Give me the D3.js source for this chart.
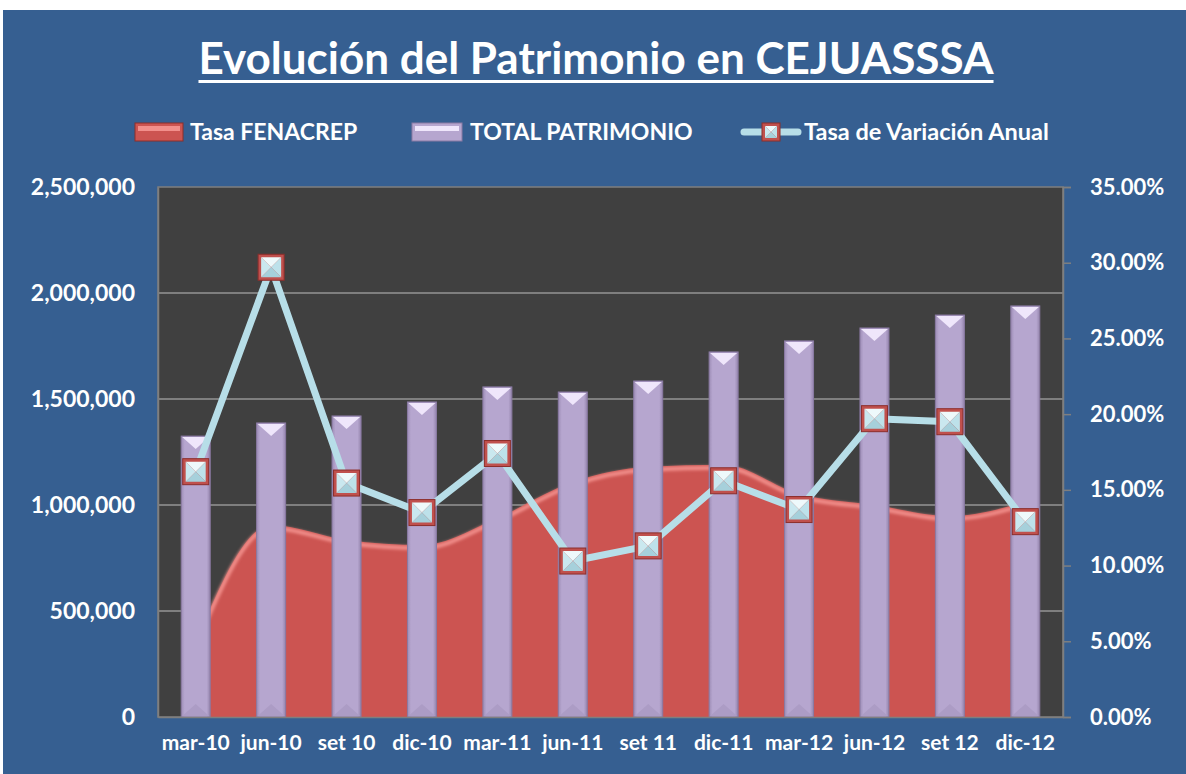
<!DOCTYPE html>
<html>
<head>
<meta charset="utf-8">
<script src="https://cdn.jsdelivr.net/npm/d3@7"></script>
<style>
  body { margin: 0; background: #ffffff; }
  svg text { font-family: "Lato", "Open Sans", sans-serif; font-weight: 700; fill: #ffffff; }
</style>
</head>
<body>
<div id="chart"></div>
<script>
// Data
var periods = ["mar-10", "jun-10", "set 10", "dic-10", "mar-11", "jun-11", "set 11", "dic-11", "mar-12", "jun-12", "set 12", "dic-12"];
var patrimonio = [1325000, 1387000, 1420000, 1486000, 1557000, 1533000, 1585000, 1722000, 1774000, 1835000, 1896000, 1939000];
var fenacrep = [350000, 906000, 835000, 811000, 939000, 1108000, 1180000, 1190000, 1052000, 1000000, 948000, 1015000];
var variacion = [0.162, 0.297, 0.1545, 0.135, 0.174, 0.103, 0.113, 0.156, 0.137, 0.197, 0.195, 0.129];
var leftTicks = [0, 500000, 1000000, 1500000, 2000000, 2500000];
var rightTicks = [0, 0.05, 0.10, 0.15, 0.20, 0.25, 0.30, 0.35];

var width = 1186, height = 774;
var plotLeft = 158, plotRight = 1063, plotTop = 187, plotBottom = 717;
var barWidth = 29;

var svg = d3.select("#chart").append("svg")
  .attr("width", width)
  .attr("height", height);

var defs = svg.append("defs");

// soft glow for the area edge
var blur = defs.append("filter").attr("id", "soft");
blur.append("feGaussianBlur").attr("stdDeviation", 1.6);

// bar body gradient (darker edges)
var barGrad = defs.append("linearGradient").attr("id", "barGrad")
  .attr("x1", 0).attr("x2", 1).attr("y1", 0).attr("y2", 0);
barGrad.append("stop").attr("offset", "0%").attr("stop-color", "#9d8db6");
barGrad.append("stop").attr("offset", "12%").attr("stop-color", "#b6a6cf");
barGrad.append("stop").attr("offset", "88%").attr("stop-color", "#b6a6cf");
barGrad.append("stop").attr("offset", "100%").attr("stop-color", "#9585ad");

// background
svg.append("rect")
  .attr("x", 3).attr("y", 10)
  .attr("width", width - 3).attr("height", height - 10)
  .attr("fill", "#365f91");

// Title
var title = svg.append("text")
  .attr("x", 596)
  .attr("y", 74)
  .attr("text-anchor", "middle")
  .attr("font-size", "44px")
  .text("Evolución del Patrimonio en CEJUASSSA");
var tw = title.node().getComputedTextLength();
svg.append("rect")
  .attr("x", 596 - tw / 2).attr("y", 80)
  .attr("width", tw).attr("height", 3)
  .attr("fill", "#ffffff");

// Scales
var x = d3.scaleBand().domain(periods).range([plotLeft, plotRight]);
var yL = d3.scaleLinear().domain([0, 2500000]).range([plotBottom, plotTop]);
var yR = d3.scaleLinear().domain([0, 0.35]).range([plotBottom, plotTop]);
var cx = function (p) { return x(p) + x.bandwidth() / 2; };

// Plot area
svg.append("rect")
  .attr("x", plotLeft).attr("y", plotTop)
  .attr("width", plotRight - plotLeft).attr("height", plotBottom - plotTop)
  .attr("fill", "#404040")
  .attr("stroke", "#7f7f7f")
  .attr("stroke-width", 1.5);

// gridlines on left axis ticks
svg.append("g")
  .selectAll("line")
  .data(leftTicks.slice(1, -1))
  .enter().append("line")
  .attr("x1", plotLeft).attr("x2", plotRight)
  .attr("y1", function (d) { return yL(d); })
  .attr("y2", function (d) { return yL(d); })
  .attr("stroke", "#7f7f7f")
  .attr("stroke-width", 2);

// Area: Tasa FENACREP
var areaGen = d3.area()
  .x(function (d, i) { return cx(periods[i]); })
  .y0(plotBottom)
  .y1(function (d) { return yL(d); })
  .curve(d3.curveMonotoneX);
var edgeGen = d3.line()
  .x(function (d, i) { return cx(periods[i]); })
  .y(function (d) { return yL(d) + 3; })
  .curve(d3.curveMonotoneX);

svg.append("path")
  .datum(fenacrep)
  .attr("d", areaGen)
  .attr("fill", "#cc5451");
svg.append("path")
  .datum(fenacrep)
  .attr("d", edgeGen)
  .attr("fill", "none")
  .attr("stroke", "#f28f8b")
  .attr("stroke-width", 4)
  .attr("filter", "url(#soft)");

// Bars: TOTAL PATRIMONIO
var bars = svg.append("g").selectAll("g")
  .data(patrimonio)
  .enter().append("g");

bars.append("rect")
  .attr("x", function (d, i) { return cx(periods[i]) - barWidth / 2; })
  .attr("y", function (d) { return yL(d); })
  .attr("width", barWidth)
  .attr("height", function (d) { return plotBottom - yL(d); })
  .attr("fill", "url(#barGrad)")
  .attr("stroke", "#8a7aa3")
  .attr("stroke-width", 1);

// bevel highlight at top of each bar
bars.append("path")
  .attr("d", function (d, i) {
    var c = cx(periods[i]), t = yL(d) + 1;
    return "M" + (c - barWidth / 2 + 1) + "," + t +
      "L" + (c + barWidth / 2 - 1) + "," + t +
      "L" + c + "," + (t + 12) + "Z";
  })
  .attr("fill", "#efe6fb");
bars.append("path")
  .attr("d", function (d, i) {
    var c = cx(periods[i]), b = plotBottom - 1;
    return "M" + (c - barWidth / 2 + 1) + "," + b +
      "L" + (c + barWidth / 2 - 1) + "," + b +
      "L" + c + "," + (b - 12) + "Z";
  })
  .attr("fill", "#ac9cc5");

// Axes
var leftAxis = svg.append("g")
  .attr("transform", "translate(" + plotLeft + ",0)")
  .call(d3.axisLeft(yL).tickValues(leftTicks).tickSize(0).tickPadding(23)
    .tickFormat(d3.format(",")));
leftAxis.select(".domain").attr("stroke", "#7f7f7f").attr("stroke-width", 1.5);
leftAxis.selectAll("text").attr("font-size", "23px").attr("fill", "#ffffff").attr("font-family", null);

var rightAxis = svg.append("g")
  .attr("transform", "translate(" + plotRight + ",0)")
  .call(d3.axisRight(yR).tickValues(rightTicks).tickSize(8).tickPadding(19)
    .tickFormat(d3.format(".2%")));
rightAxis.select(".domain").attr("stroke", "#7f7f7f").attr("stroke-width", 1.5);
rightAxis.selectAll("line").attr("stroke", "#7f7f7f").attr("stroke-width", 1.5);
rightAxis.selectAll("text").attr("font-size", "22px").attr("fill", "#ffffff").attr("font-family", null);

var bottomAxis = svg.append("g")
  .attr("transform", "translate(0," + plotBottom + ")")
  .call(d3.axisBottom(x).tickSize(0).tickPadding(18));
bottomAxis.select(".domain").attr("stroke", "#7f7f7f").attr("stroke-width", 1.5);
bottomAxis.selectAll("text").attr("font-size", "21px").attr("fill", "#ffffff").attr("font-family", null);

// Line: Tasa de Variación Anual
var lineGen = d3.line()
  .x(function (d, i) { return cx(periods[i]); })
  .y(function (d) { return yR(d); });

svg.append("path")
  .datum(variacion)
  .attr("d", lineGen)
  .attr("fill", "none")
  .attr("stroke", "#b7dee8")
  .attr("stroke-width", 7)
  .attr("stroke-linejoin", "round");

function drawMarker(g, mx, my, s) {
  var h = s / 2;
  g.append("rect")
    .attr("x", mx - h - 1).attr("y", my - h - 1)
    .attr("width", s + 2).attr("height", s + 2)
    .attr("fill", "#c0504d")
    .attr("stroke", "#8c2e2b")
    .attr("stroke-width", 1);
  var i = h - 2;
  var tl = [mx - i, my - i], tr = [mx + i, my - i], br = [mx + i, my + i], bl = [mx - i, my + i], c = [mx, my];
  var faces = [
    [[tl, tr, c], "#eef9fb"],
    [[tr, br, c], "#bde1ea"],
    [[br, bl, c], "#a6d0db"],
    [[bl, tl, c], "#cae8ef"]
  ];
  faces.forEach(function (f) {
    g.append("path")
      .attr("d", "M" + f[0].map(function (p) { return p.join(","); }).join("L") + "Z")
      .attr("fill", f[1]);
  });
}

var markers = svg.append("g");
variacion.forEach(function (v, i) {
  drawMarker(markers, cx(periods[i]), yR(v), 24);
});

// Legend
var legend = svg.append("g");
var ly = 132;

legend.append("rect").attr("x", 135).attr("y", ly - 9).attr("width", 48).attr("height", 18)
  .attr("fill", "#cc5451").attr("stroke", "#8c2e2b");
legend.append("rect").attr("x", 138).attr("y", ly - 6).attr("width", 42).attr("height", 5)
  .attr("fill", "#f28f8b");
legend.append("text").attr("x", 190).attr("y", ly + 8).attr("font-size", "23px").text("Tasa FENACREP");

legend.append("rect").attr("x", 412).attr("y", ly - 9).attr("width", 50).attr("height", 18)
  .attr("fill", "#b6a6cf").attr("stroke", "#8a7aa3");
legend.append("rect").attr("x", 415).attr("y", ly - 6).attr("width", 44).attr("height", 5)
  .attr("fill", "#efe6fb");
legend.append("text").attr("x", 470).attr("y", ly + 8).attr("font-size", "23px").text("TOTAL PATRIMONIO");

legend.append("line").attr("x1", 744).attr("x2", 798).attr("y1", ly).attr("y2", ly)
  .attr("stroke", "#b7dee8").attr("stroke-width", 7).attr("stroke-linecap", "round");
drawMarker(legend, 771, ly, 16);
legend.append("text").attr("x", 804).attr("y", ly + 8).attr("font-size", "23.5px").text("Tasa de Variación Anual");
</script>
</body>
</html>
